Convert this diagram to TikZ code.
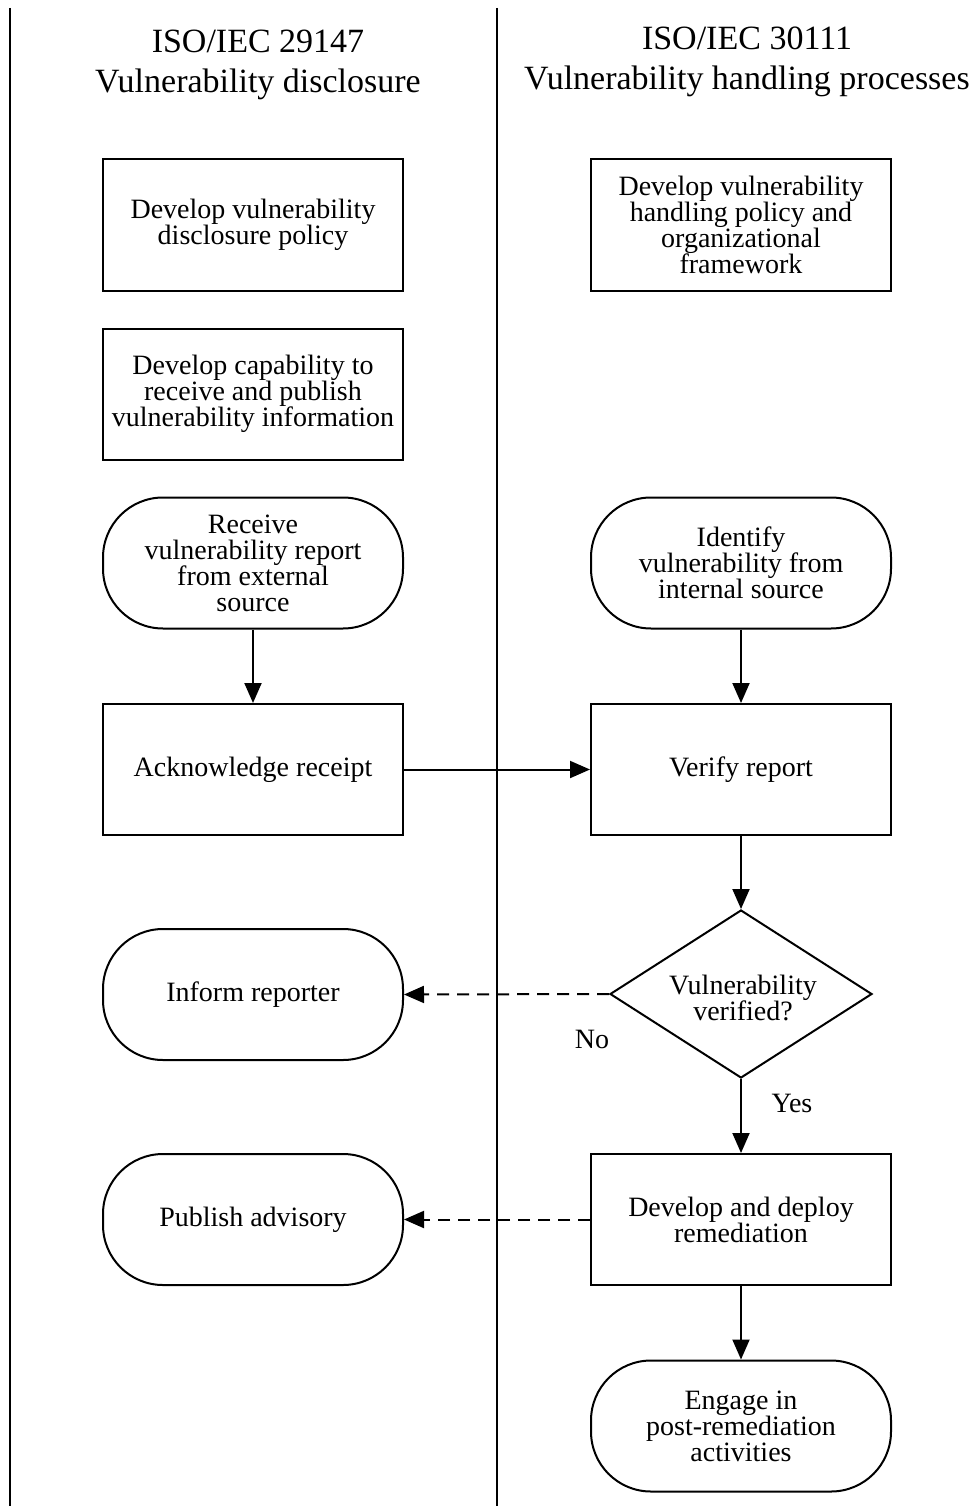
\documentclass[tikz,border=0pt]{standalone}
\usepackage{fontspec}
\setmainfont{Liberation Serif}
\usetikzlibrary{shapes.geometric,arrows.meta}
\begin{document}
\begin{tikzpicture}[x=1pt,y=-1pt,
  lane/.style={line width=2pt},
  stepbox/.style={draw,line width=2pt,minimum width=300pt,minimum height=131pt,
    align=center,font=\fontsize{28}{26}\selectfont,inner sep=0pt},
  term/.style={stepbox,rounded corners=60pt},
  decision/.style={draw,line width=2pt,diamond,minimum width=262pt,minimum height=168pt,inner sep=0pt},
  head/.style={align=center,font=\fontsize{34}{40}\selectfont},
  flow/.style={line width=2pt,-{Triangle[length=20pt,width=17pt]}},
  back/.style={flow,dash pattern=on 12pt off 8pt},
  tag/.style={font=\fontsize{28}{28}\selectfont}
]
\useasboundingbox (0,0) rectangle (976,1506);
% swimlane borders
\draw[lane] (10,8) -- (10,1506);
\draw[lane] (497,8) -- (497,1506);

% lane headings
\node[head] (hL) at (258,65) {ISO/IEC 29147\\Vulnerability disclosure};
\node[head] (hR) at (747,62) {ISO/IEC 30111\\Vulnerability handling processes};

% disclosure lane
\node[stepbox] (policyL) at (253,225) {Develop vulnerability\\disclosure policy};
\node[stepbox] (capab) at (253,394) {Develop capability to\\receive and publish\\vulnerability information};
\node[term] (receive) at (253,563) {Receive\\vulnerability report\\from external\\source};
\node[stepbox] (ack) at (253,769.5) {Acknowledge receipt};
\node[term] (inform) at (253,994.5) {Inform reporter};
\node[term] (publish) at (253,1219.5) {Publish advisory};

% handling lane
\node[stepbox] (policyR) at (741,225) {Develop vulnerability\\handling policy and\\organizational\\framework};
\node[term] (identify) at (741,563) {Identify\\vulnerability from\\internal source};
\node[stepbox] (verify) at (741,769.5) {Verify report};
\node[decision] (check) at (741,994) {};
\node[align=center,font=\fontsize{28}{26}\selectfont] (checktext) at (743,998) {Vulnerability\\verified?};
\node[stepbox] (remedy) at (741,1219.5) {Develop and deploy\\remediation};
\node[term] (engage) at (741,1426) {Engage in\\post-remediation\\activities};

% connectors
\draw[flow] (receive) -- (ack);
\draw[flow] (identify) -- (verify);
\draw[flow] (ack) -- (verify);
\draw[flow] (verify) -- (check);
\draw[flow] (check) -- (remedy);
\draw[flow] (remedy) -- (engage);
\draw[back] (check.west) -- (inform.east);
\draw[back] (remedy.west) -- (publish.east);

% decision outcomes
\node[tag] (no) at (592,1039) {No};
\node[tag] (yes) at (792,1103) {Yes};
\end{tikzpicture}
\end{document}
